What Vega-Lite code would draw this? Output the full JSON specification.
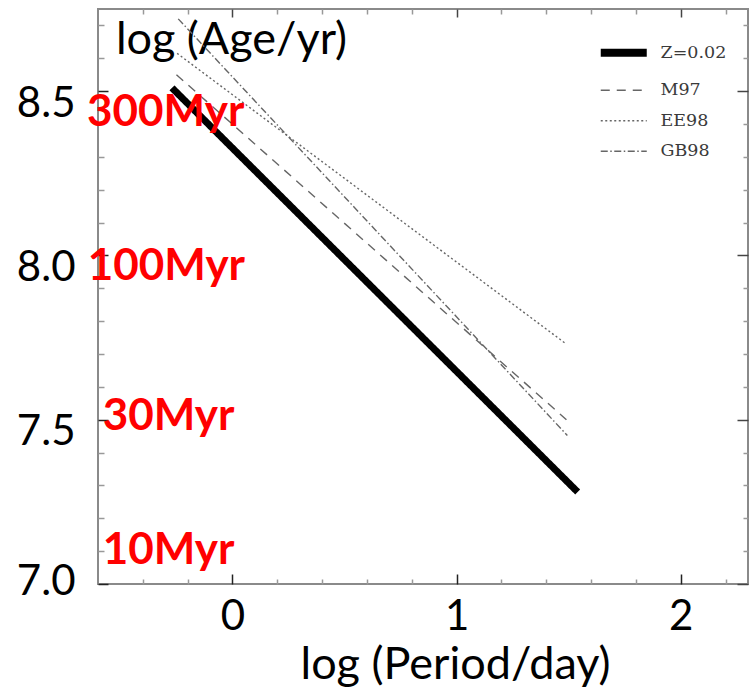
{
  "$schema": "https://vega.github.io/schema/vega-lite/v6.json",
  "width": 650,
  "height": 575,
  "autosize": {"type": "none"},
  "padding": {"left": 98, "top": 9, "right": 5, "bottom": 108},
  "background": "white",
  "config": {"view": {"stroke": "#8a8a8a", "strokeWidth": 2}, "font": "Lato"},
  "layer": [
    {
      "data": {"values": [
        {"model": "Z=0.02", "logP": -0.27, "logAge": 8.51},
        {"model": "Z=0.02", "logP": 1.54, "logAge": 7.28},
        {"model": "M97", "logP": -0.25, "logAge": 8.55},
        {"model": "M97", "logP": 1.49, "logAge": 7.50},
        {"model": "EE98", "logP": -0.247, "logAge": 8.615},
        {"model": "EE98", "logP": 1.49, "logAge": 7.73},
        {"model": "GB98", "logP": -0.242, "logAge": 8.72},
        {"model": "GB98", "logP": 1.494, "logAge": 7.452}
      ]},
      "mark": {"type": "line", "strokeCap": "butt"},
      "encoding": {
        "x": {
          "field": "logP", "type": "quantitative",
          "scale": {"domain": [-0.6, 2.3], "nice": false, "zero": false},
          "axis": {
            "orient": "bottom",
            "values": [-0.4, -0.2, 0, 0.2, 0.4, 0.6, 0.8, 1, 1.2, 1.4, 1.6, 1.8, 2, 2.2],
            "domain": false, "grid": false,
            "tickSize": {"condition": {"test": "datum.value % 1 === 0", "value": -10}, "value": -5},
            "tickColor": {"condition": {"test": "datum.value % 1 === 0", "value": "#222222"}, "value": "#999999"},
            "tickWidth": 1.5,
            "labelExpr": "datum.value % 1 === 0 ? format(datum.value, 'd') : ''",
            "labelFont": "Lato", "labelFontSize": 42, "labelColor": "black",
            "labelBaseline": "alphabetic", "labelPadding": 55,
            "labelOverlap": false, "labelFlush": false, "labelBound": false,
            "title": "log (Period/day)",
            "titleFont": "Lato", "titleFontSize": 45, "titleFontWeight": "normal", "titleColor": "black",
            "titleX": 357, "titleY": 94, "titleAlign": "center", "titleBaseline": "alphabetic", "titleAnchor": null
          }
        },
        "y": {
          "field": "logAge", "type": "quantitative",
          "scale": {"domain": [7.0, 8.75], "nice": false, "zero": false},
          "axis": {
            "orient": "left",
            "values": [7.0, 7.1, 7.2, 7.3, 7.4, 7.5, 7.6, 7.7, 7.8, 7.9, 8.0, 8.1, 8.2, 8.3, 8.4, 8.5, 8.6, 8.7],
            "domain": false, "grid": false,
            "tickSize": {"condition": {"test": "abs(datum.value*2 - round(datum.value*2)) < 0.001", "value": -10}, "value": -6},
            "tickColor": {"condition": {"test": "abs(datum.value*2 - round(datum.value*2)) < 0.001", "value": "#222222"}, "value": "#999999"},
            "tickWidth": 1.5,
            "labelExpr": "abs(datum.value*2 - round(datum.value*2)) < 0.001 ? format(datum.value, '.1f') : ''",
            "labelFont": "Lato", "labelFontSize": 42, "labelColor": "black",
            "labelAlign": "right", "labelBaseline": "middle", "labelPadding": 33,
            "labelOffset": {"condition": {"test": "datum.value < 7.2", "value": -3}, "value": 12},
            "labelOverlap": false, "labelFlush": false, "labelBound": false,
            "title": "log (Age/yr)",
            "titleFont": "Lato", "titleFontSize": 45, "titleFontWeight": "normal", "titleColor": "black",
            "titleAngle": 0, "titleX": 133, "titleY": 44, "titleAlign": "center", "titleBaseline": "alphabetic", "titleAnchor": null
          }
        },
        "color": {
          "field": "model", "type": "nominal",
          "scale": {"domain": ["Z=0.02", "M97", "EE98", "GB98"], "range": ["#000000", "#666666", "#666666", "#666666"]},
          "legend": {
            "orient": "none", "legendX": 517, "legendY": 35, "title": null,
            "symbolType": "stroke", "symbolSize": 2116,
            "symbolStrokeWidth": {"expr": "datum.value === 'Z=0.02' ? 8 : 1.4"},
            "labelFont": "DejaVu Serif", "labelFontSize": 17.5, "labelColor": "#3a3a3a",
            "rowPadding": 11.5, "labelOffset": 28, "padding": 0
          }
        },
        "strokeDash": {
          "field": "model", "type": "nominal",
          "scale": {"domain": ["Z=0.02", "M97", "EE98", "GB98"], "range": [[1, 0], [9, 7], [2, 2.5], [7, 2.5, 1.5, 2.5]]},
          "legend": {
            "orient": "none", "legendX": 517, "legendY": 35, "title": null,
            "symbolType": "stroke", "symbolSize": 2116,
            "symbolStrokeWidth": {"expr": "datum.value === 'Z=0.02' ? 8 : 1.4"},
            "labelFont": "DejaVu Serif", "labelFontSize": 17.5, "labelColor": "#3a3a3a",
            "rowPadding": 11.5, "labelOffset": 28, "padding": 0
          }
        },
        "strokeWidth": {"condition": {"test": "datum.model === 'Z=0.02'", "value": 7}, "value": 1.4}
      }
    },
    {
      "data": {"values": [
        {"label": "300Myr", "logP": -0.298, "logAge": 8.435},
        {"label": "100Myr", "logP": -0.295, "logAge": 7.965},
        {"label": "30Myr", "logP": -0.285, "logAge": 7.507},
        {"label": "10Myr", "logP": -0.285, "logAge": 7.10}
      ]},
      "mark": {"type": "text", "color": "#ff0000", "font": "Lato", "fontWeight": "bold", "fontSize": 44, "align": "center", "baseline": "middle"},
      "encoding": {
        "x": {
          "field": "logP", "type": "quantitative",
          "axis": {
            "orient": "top",
            "values": [-0.4, -0.2, 0, 0.2, 0.4, 0.6, 0.8, 1, 1.2, 1.4, 1.6, 1.8, 2, 2.2],
            "domain": false, "grid": false, "labels": false, "title": null,
            "tickSize": {"condition": {"test": "datum.value % 1 === 0", "value": -8}, "value": -5},
            "tickColor": {"condition": {"test": "datum.value % 1 === 0", "value": "#444444"}, "value": "#999999"},
            "tickWidth": 1.5
          }
        },
        "y": {
          "field": "logAge", "type": "quantitative",
          "axis": {
            "orient": "right",
            "values": [7.0, 7.1, 7.2, 7.3, 7.4, 7.5, 7.6, 7.7, 7.8, 7.9, 8.0, 8.1, 8.2, 8.3, 8.4, 8.5, 8.6, 8.7],
            "domain": false, "grid": false, "labels": false, "title": null,
            "tickSize": {"condition": {"test": "abs(datum.value*2 - round(datum.value*2)) < 0.001", "value": -11}, "value": -5},
            "tickColor": {"condition": {"test": "abs(datum.value*2 - round(datum.value*2)) < 0.001", "value": "#444444"}, "value": "#999999"},
            "tickWidth": 1.5
          }
        },
        "text": {"field": "label", "type": "nominal"}
      }
    }
  ],
  "resolve": {"axis": {"x": "independent", "y": "independent"}}
}
